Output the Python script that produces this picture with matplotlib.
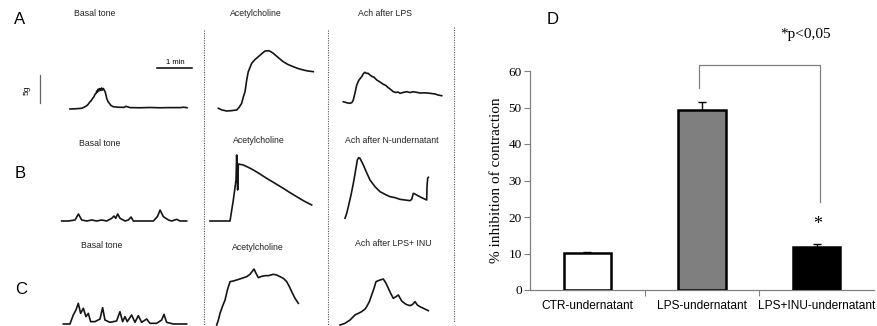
import numpy as np
import matplotlib
matplotlib.use("Agg")
import matplotlib.pyplot as plt
from matplotlib.lines import Line2D

# ---------------- data ----------------
# Isometric traces: time (s) from trace start, tension (g) above trace baseline
a_basal_t = [0, 10.3, 20.1, 24, 28.6, 30.9, 34.3, 36, 38.9, 40.3, 42.9, 44.6, 45.8, 47.1, 48.5, 50.1, 51.4, 52.8,
             54.3, 55.7, 57.1, 58.6, 60, 61.7, 62.9, 65.1, 67.4, 70.3, 74.2, 82.3, 92.6, 96, 98.6, 102.9, 120,
             137.1, 154.3, 171.4, 188.6, 195.4, 200.6]
a_basal_f = [-0.18, -0.13, -0.05, 0.13, 0.41, 0.63, 1.13, 1.25, 1.73, 1.88, 2.45, 2.59, 3.04, 2.82, 3.39, 3.07,
             3.48, 3.14, 3.57, 3.21, 3.48, 3.21, 2.95, 2.32, 1.73, 1.16, 0.84, 0.45, 0.23, 0.14, 0.11, 0.30, 0.21,
             0.07, 0.04, 0.09, 0.04, 0.07, 0.07, 0.14, 0.05]
a_ach_t = [0, 6.3, 14.4, 21.8, 31.5, 35.5, 40.1, 42.9, 45.8, 48.7, 51.4, 57.3, 62.9, 68.6, 74.9, 80.1, 85.7, 89.5,
           94.3, 102.9, 111.4, 119.5, 128.6, 136.6, 145.7, 153.8, 162.9]
a_ach_f = [0, -0.30, -0.48, -0.43, -0.30, 0.14, 0.89, 2.02, 2.96, 5.05, 6.54, 8.04, 8.71, 9.21, 9.79, 10.23, 10.29,
           10.14, 9.82, 9.04, 8.32, 7.82, 7.43, 7.11, 6.84, 6.66, 6.54]
a_lps_t = [0, 6.3, 11.5, 14.9, 17.1, 20.1, 23, 26.9, 31.5, 34.6, 37.2, 39.8, 42.3, 45.8, 49.2, 52.6, 57.3, 62.9,
           68.6, 73.2, 76.6, 80.1, 85.7, 90.3, 93.8, 97.2, 102.3, 108.7, 114.3, 119.5, 125.8, 131.5, 140.1, 148.6,
           157.2, 162.3, 168.7]
a_lps_f = [0, -0.20, -0.29, -0.14, 0.30, 1.55, 2.98, 3.88, 4.46, 5.04, 5.25, 5.04, 5.09, 4.77, 4.50, 4.38, 3.88,
           3.52, 3.11, 2.89, 2.54, 2.27, 1.79, 1.64, 1.73, 1.50, 1.64, 1.79, 1.64, 1.77, 1.68, 1.55, 1.59, 1.50,
           1.38, 1.20, 1.07]

b_basal_t = [0, 11.4, 22.9, 28.6, 34.3, 42.9, 51.4, 60, 68.6, 77.1, 85.7, 89.7, 92.6, 96, 100, 108.6, 114.3, 118.9,
             122.9, 134.3, 145.7, 157.1, 164, 168.6, 174.3, 182.9, 188.6, 197.1, 202.9, 214.3]
b_basal_f = [0, 0, 0.18, 1.25, 0.18, 0, 0.18, 0, 0.18, 0, 0.48, 0.89, 0.48, 1.25, 0.48, 0, 0.18, 0.71, 0, 0, 0, 0,
             0.77, 1.96, 0.77, 0.18, 0, 0.30, 0, 0]
b_ach_t = [0, 34.3, 40, 44.6, 45.7, 47.4, 48.6, 57.1, 65.7, 74.3, 85.7, 97.1, 111.4, 125.7, 137.1, 148.6, 160, 174.3]
b_ach_f = [0, 0, 3.75, 7.32, 11.79, 5.54, 10.18, 10.0, 9.58, 9.11, 8.39, 7.62, 6.73, 5.83, 5.06, 4.35, 3.63, 2.86]
b_n_t = [0, 2.9, 5.7, 10.3, 14.3, 18.3, 21.1, 23.4, 25.7, 28.6, 31.4, 37.1, 42.9, 51.4, 60, 68.6, 77.1, 85.7, 94.3,
         102.9, 111.4, 114.3, 117.1, 120, 122.9, 131.4, 140, 140.6, 141.7, 142.9]
b_n_f = [0.48, 1.37, 2.56, 4.64, 6.73, 9.11, 10.89, 11.31, 11.19, 10.6, 10.0, 8.63, 7.32, 6.13, 5.24, 4.76, 4.35,
         4.17, 3.87, 3.75, 3.63, 3.87, 4.94, 4.82, 4.64, 4.17, 3.75, 6.13, 7.62, 7.80]

c_basal_t = [0, 11.4, 17.1, 21.7, 25.7, 29.7, 34.3, 38.9, 42.9, 46.9, 54.3, 62.9, 67.4, 71.4, 80, 91.4, 97.1, 101.7,
             105.7, 109.7, 117.1, 122.9, 128.6, 134.3, 142.9, 148.6, 160, 168.6, 172.6, 177.1, 188.6, 211.4]
c_basal_f = [0, 0, 1.61, 2.50, 3.69, 1.90, 2.80, 1.31, 1.90, 0.42, 0.42, 0.89, 2.92, 0.71, 0.30, 0.54, 2.20, 0.42,
             1.31, 0.42, 1.61, 0.30, 1.49, 0.30, 0.89, 0.12, 0.12, 0.71, 1.73, 0.30, 0, 0]
c_ach_t = [0, 2.9, 5.7, 9.7, 14.3, 18.3, 22.9, 28.6, 34.3, 42.9, 51.4, 57.1, 64, 67.4, 71.4, 77.1, 82.9, 88.6, 97.1,
           102.9, 108.6, 114.3, 120, 124.6, 128.6, 134.3, 140]
c_ach_f = [0, 0.89, 2.08, 3.27, 4.46, 6.25, 7.74, 7.86, 8.04, 8.33, 8.63, 9.05, 10.0, 9.23, 8.45, 8.69, 8.81, 8.81,
           9.05, 8.93, 8.63, 8.33, 7.74, 6.85, 5.95, 4.76, 3.87]
c_inu_t = [0, 8.6, 17.1, 25.7, 31.4, 37.1, 42.9, 45.7, 50.3, 54.3, 58.3, 61.7, 68.6, 74.3, 78.9, 82.9, 86.9, 91.4,
           96, 100, 105.7, 113.1, 120, 124.6, 128.6, 132.6, 137.1, 142.9, 151.4]
c_inu_f = [0, 0.30, 0.89, 1.79, 2.08, 2.38, 2.86, 3.27, 4.17, 5.36, 6.55, 7.74, 8.04, 8.21, 7.44, 6.55, 5.65, 4.76,
           5.06, 5.36, 4.29, 3.69, 3.45, 3.69, 4.17, 3.57, 3.27, 2.98, 2.56]

scale_time_s = 60
scale_force_g = 5

# Panel D
categories = ["CTR-undernatant", "LPS-undernatant", "LPS+INU-undernatant"]
inhibition = [10.05, 49.3, 11.9]
inhibition_err = [0.45, 2.3, 0.6]
bar_colors = ["white", "#7f7f7f", "black"]
y_ticks = [0, 10, 20, 30, 40, 50, 60]

# ---------------- layout ----------------
W, H = 877, 326
SX = 60 / 35.0   # seconds per pixel
SY = 5 / 28.0    # grams per pixel

fig = plt.figure(figsize=(W / 100, H / 100), dpi=100)
fig.patch.set_facecolor("white")

ax0 = fig.add_axes([0, 0, 1, 1])
ax0.set_xlim(0, W * SX)
ax0.set_ylim(0, H * SY)
ax0.axis("off")

def place(x_px, y_px):
    return x_px * SX, (H - y_px) * SY

traces = [
    (a_basal_t, a_basal_f, (70, 108)),
    (a_ach_t, a_ach_f, (218.3, 108.3)),
    (a_lps_t, a_lps_f, (343.3, 101.7)),
    (b_basal_t, b_basal_f, (61.7, 221)),
    (b_ach_t, b_ach_f, (210, 221)),
    (b_n_t, b_n_f, (345, 221)),
    (c_basal_t, c_basal_f, (63.3, 324)),
    (c_ach_t, c_ach_f, (216.7, 325)),
    (c_inu_t, c_inu_f, (340, 325)),
]
for t, f, (xp, yp) in traces:
    T0, F0 = place(xp, yp)
    ax0.plot(np.array(t) + T0, np.array(f) + F0, color="#151515", lw=1.2, solid_joinstyle="round")

# scale bars
T0, F0 = place(157, 68)
ax0.plot([T0, T0 + scale_time_s], [F0, F0], color="black", lw=1.1)
T0, F0 = place(40, 103)
ax0.plot([T0, T0], [F0, F0 + scale_force_g], color="#666666", lw=0.9)
fig.text(175 / W, 1 - 62 / H, "1 min", ha="center", va="center", fontsize=5.5, family="Liberation Sans")
fig.text(27 / W, 1 - 90 / H, "5g", ha="center", va="center", fontsize=6, rotation=90, family="Liberation Sans")

# dotted separators
for x, y0, y1 in [(204, 30, 326), (328, 30, 326), (454, 27, 322)]:
    fig.add_artist(Line2D([x / W, x / W], [1 - y0 / H, 1 - y1 / H], transform=fig.transFigure,
                          color="#555555", lw=0.8, linestyle=(0, (1, 1.2))))

# headers
hdr = [("Basal tone", 95, 14), ("Acetylcholine", 256, 13), ("Ach after LPS", 385, 13),
       ("Basal tone", 100, 143), ("Acetylcholine", 259, 141), ("Ach after N-undernatant", 392, 141),
       ("Basal tone", 102, 246), ("Acetylcholine", 258, 247), ("Ach after LPS+ INU", 393, 243)]
for s, x, y in hdr:
    fig.text(x / W, 1 - y / H, s, ha="center", va="center", fontsize=6.3, family="Liberation Sans", color="#222222")

for s, x, y in [("A", 20, 20), ("B", 20, 173), ("C", 21, 290), ("D", 553, 20)]:
    fig.text(x / W, 1 - y / H, s, ha="center", va="center", fontsize=12, family="Liberation Sans")

# ---------------- Panel D ----------------
ax = fig.add_axes([530 / W, (H - 290) / H, 344 / W, 219 / H])
xpos = np.arange(len(categories)) + 0.5
ax.bar(xpos, inhibition, width=0.41, color=bar_colors, edgecolor="black", linewidth=1.8, zorder=3)
ax.errorbar(xpos, inhibition, yerr=[np.zeros(len(xpos)), inhibition_err], fmt="none", ecolor="black",
            elinewidth=1.0, capsize=3, capthick=1.0, zorder=2)
ax.set_xlim(0, 3)
ax.set_ylim(0, 60)
ax.set_yticks(y_ticks)
ax.set_yticklabels([str(v) for v in y_ticks], family="Liberation Serif", fontsize=9.5)
ax.set_xticks([1, 2])
ax.set_xticklabels([])
ax.set_xticks(xpos, minor=True)
ax.set_xticklabels(categories, minor=True, family="Liberation Sans", fontsize=8.6)
ax.tick_params(axis="x", which="minor", length=0, pad=7)
ax.tick_params(axis="x", which="major", length=4, color="#808080")
ax.tick_params(axis="y", length=4, color="#808080", pad=2)
for sp in ["top", "right"]:
    ax.spines[sp].set_visible(False)
for sp in ["left", "bottom"]:
    ax.spines[sp].set_color("#808080")
    ax.spines[sp].set_linewidth(0.9)
ax.set_ylabel("% inhibition of contraction", family="Liberation Serif", fontsize=11, labelpad=4)

# significance bracket
ax.plot([1.47, 1.47, 2.53, 2.53], [55.3, 61.6, 61.6, 24.1], color="#808080", lw=0.9, clip_on=False)
ax.text(2.51, 18.0, "*", ha="center", va="center", fontsize=13, family="Liberation Serif")
ax.text(2.40, 70.0, "*p<0,05", ha="center", va="center", fontsize=11, family="Liberation Serif", clip_on=False)

fig.savefig("out.png", dpi=100, facecolor="white")
